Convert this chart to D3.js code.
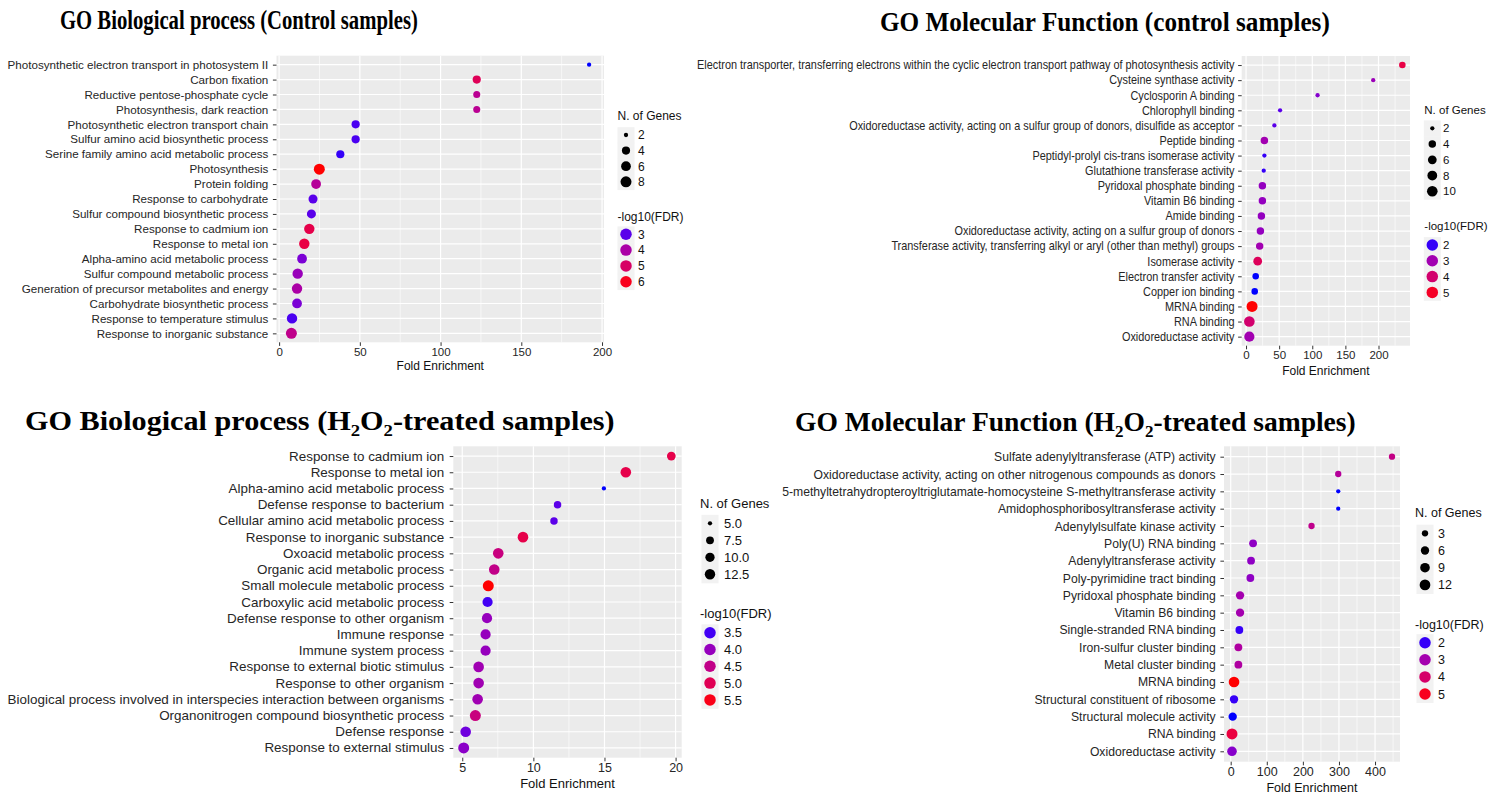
<!DOCTYPE html>
<html><head><meta charset="utf-8">
<script src="https://cdn.jsdelivr.net/npm/d3@7"></script>
<style>
body{margin:0;background:#fff;}
svg{display:block;font-family:"Liberation Sans",Arial,Helvetica,sans-serif;}
</style>
</head><body>
<svg id="chart" width="1502" height="798"></svg>
<script>
// ---------- DATA ----------
// Panel 1: GO Biological process (Control samples)
const bpCtrlTerms = ["Photosynthetic electron transport in photosystem II","Carbon fixation","Reductive pentose-phosphate cycle","Photosynthesis, dark reaction","Photosynthetic electron transport chain","Sulfur amino acid biosynthetic process","Serine family amino acid metabolic process","Photosynthesis","Protein folding","Response to carbohydrate","Sulfur compound biosynthetic process","Response to cadmium ion","Response to metal ion","Alpha-amino acid metabolic process","Sulfur compound metabolic process","Generation of precursor metabolites and energy","Carbohydrate biosynthetic process","Response to temperature stimulus","Response to inorganic substance"];
const bpCtrlFold = [192,122.4,122.4,122.4,47.4,47.4,37.9,24.9,22.9,21.0,20.0,18.7,15.6,14.2,11.5,11.1,11.1,8.0,7.6];
const bpCtrlGenes = [2,4,3,3,4,4,4,8,6,5,5,7,7,6,7,7,6,7,8];
const bpCtrlLogFDR = [2.7,5.2,4.3,4.3,2.9,2.9,2.8,6.2,4.2,3.0,3.0,5.4,5.5,3.3,3.7,4.0,3.3,2.9,4.4];
const bpCtrlXTicks = [0,50,100,150,200];
const bpCtrlSizeBreaks = [2,4,6,8];
const bpCtrlColorBreaks = [3,4,5,6];

// Panel 2: GO Molecular Function (control samples)
const mfCtrlTerms = ["Electron transporter, transferring electrons within the cyclic electron transport pathway of photosynthesis activity","Cysteine synthase activity","Cyclosporin A binding","Chlorophyll binding","Oxidoreductase activity, acting on a sulfur group of donors, disulfide as acceptor","Peptide binding","Peptidyl-prolyl cis-trans isomerase activity","Glutathione transferase activity","Pyridoxal phosphate binding","Vitamin B6 binding","Amide binding","Oxidoreductase activity, acting on a sulfur group of donors","Transferase activity, transferring alkyl or aryl (other than methyl) groups","Isomerase activity","Electron transfer activity","Copper ion binding","MRNA binding","RNA binding","Oxidoreductase activity"];
const mfCtrlFold = [236,192,108,51.4,42.8,27.7,27.7,26.7,24.7,24.7,23.2,21.7,20.6,17.6,14.6,13.1,9.1,5.0,5.0];
const mfCtrlGenes = [3,2,2,2,2,4,2,2,4,4,4,4,4,6,3,3,11,10,9];
const mfCtrlLogFDR = [4.6,2.9,2.6,2.2,2.2,3.0,2.0,2.0,2.8,2.8,2.8,2.8,3.0,4.3,1.9,1.9,5.3,4.0,3.0];
const mfCtrlXTicks = [0,50,100,150,200];
const mfCtrlSizeBreaks = [2,4,6,8,10];
const mfCtrlColorBreaks = [2,3,4,5];

// Panel 3: GO Biological process (H2O2-treated samples)
const bpH2o2Terms = ["Response to cadmium ion","Response to metal ion","Alpha-amino acid metabolic process","Defense response to bacterium","Cellular amino acid metabolic process","Response to inorganic substance","Oxoacid metabolic process","Organic acid metabolic process","Small molecule metabolic process","Carboxylic acid metabolic process","Defense response to other organism","Immune response","Immune system process","Response to external biotic stimulus","Response to other organism","Biological process involved in interspecies interaction between organisms","Organonitrogen compound biosynthetic process","Defense response","Response to external stimulus"];
const bpH2o2Fold = [19.7,16.5,14.96,11.7,11.45,9.27,7.53,7.25,6.83,6.78,6.74,6.64,6.64,6.15,6.15,6.08,5.92,5.24,5.1];
const bpH2o2Genes = [9,13,5,7,7,13,13,13,14,12,12,12,12,13,13,13,14,13,14];
const bpH2o2LogFDR = [5.1,5.1,3.4,3.6,3.6,5.1,4.6,4.5,5.6,3.5,4.0,4.0,4.0,4.1,4.1,4.1,4.6,3.7,3.9];
const bpH2o2XTicks = [5,10,15,20];
const bpH2o2SizeBreaks = [5,7.5,10,12.5];
const bpH2o2ColorBreaks = [3.5,4.0,4.5,5.0,5.5];

// Panel 4: GO Molecular Function (H2O2-treated samples)
const mfH2o2Terms = ["Sulfate adenylyltransferase (ATP) activity","Oxidoreductase activity, acting on other nitrogenous compounds as donors","5-methyltetrahydropteroyltriglutamate-homocysteine S-methyltransferase activity","Amidophosphoribosyltransferase activity","Adenylylsulfate kinase activity","Poly(U) RNA binding","Adenylyltransferase activity","Poly-pyrimidine tract binding","Pyridoxal phosphate binding","Vitamin B6 binding","Single-stranded RNA binding","Iron-sulfur cluster binding","Metal cluster binding","MRNA binding","Structural constituent of ribosome","Structural molecule activity","RNA binding","Oxidoreductase activity"];
const mfH2o2Fold = [447,298,298,298,224,62,56.4,54.5,25.9,25.9,24,21.3,21.3,9.2,9.2,5.5,3.6,3.6];
const mfH2o2Genes = [3,3,2,2,3,5,5,5,6,6,5,5,5,12,6,6,13,9];
const mfH2o2LogFDR = [3.6,3.3,1.9,1.9,3.5,2.7,2.7,2.7,3.0,3.0,2.0,3.2,3.2,5.2,2.0,1.9,4.6,2.6];
const mfH2o2XTicks = [0,100,200,300,400];
const mfH2o2SizeBreaks = [3,6,9,12];
const mfH2o2ColorBreaks = [2,3,4,5];

// ---------- DRAWING ----------
const svg = d3.select("#chart");
const D_MIN = 4.3, D_MAX = 11, LEG_COLOR_D = 11.5;

function expand([a,b]){ const r=b-a; return [a-0.05*r, b+0.05*r]; }

function drawPanel(d, L){
  const g = svg.append("g");
  const x = d3.scaleLinear().domain(expand(d3.extent(d.fold))).range([L.left, L.right]);
  const y = d3.scalePoint().domain(d.terms).range([L.top, L.bottom]).padding(0.6);
  const norm = d3.scaleLinear().domain(d3.extent(d.genes)).range([0,1]);
  const diam = d3.scaleSqrt().domain([0,1]).range([D_MIN, D_MAX]);
  const size = v => diam(Math.max(0, norm(v)));
  const color = d3.scaleLinear().domain(d3.extent(d.fdr)).range(["#0000FF","#FF0000"]).interpolate(d3.interpolateLab);

  g.append("rect").attr("x",L.left).attr("y",L.top).attr("width",L.right-L.left).attr("height",L.bottom-L.top).attr("fill","#EBEBEB");
  const [dx0,dx1] = x.domain();
  const step = d.xTicks[1]-d.xTicks[0];
  const minor = [];
  for(let t=d.xTicks[0]-step/2; t<=dx1; t+=step){ if(t>=dx0) minor.push(t); }
  g.selectAll(".minor").data(minor).join("line")
    .attr("x1",v=>x(v)).attr("x2",v=>x(v)).attr("y1",L.top).attr("y2",L.bottom)
    .attr("stroke","#fff").attr("stroke-width",0.6);
  g.selectAll(".majx").data(d.xTicks.filter(v=>v>=dx0&&v<=dx1)).join("line")
    .attr("x1",v=>x(v)).attr("x2",v=>x(v)).attr("y1",L.top).attr("y2",L.bottom)
    .attr("stroke","#fff").attr("stroke-width",1.2);
  g.selectAll(".majy").data(d.terms).join("line")
    .attr("x1",L.left).attr("x2",L.right).attr("y1",v=>y(v)).attr("y2",v=>y(v))
    .attr("stroke","#fff").attr("stroke-width",1.2);

  const pts = d.terms.map((t,i)=>({t, f:d.fold[i], n:d.genes[i], c:d.fdr[i]}));
  g.selectAll(".pt").data(pts).join("circle")
    .attr("cx",p=>x(p.f)).attr("cy",p=>y(p.t)).attr("r",p=>size(p.n)/2)
    .attr("fill",p=>color(p.c));

  // y axis
  const ya = g.append("g").attr("transform",`translate(${L.left},0)`)
    .call(d3.axisLeft(y).tickSize(3.6).tickPadding(3));
  ya.select(".domain").remove();
  ya.selectAll(".tick line").attr("stroke","#333");
  const yt = ya.selectAll(".tick text").attr("fill","#262626").attr("font-size",L.labelFont)
    .attr("font-family",'"Liberation Sans",Arial,sans-serif');
  let maxW = 0; yt.each(function(){ maxW = Math.max(maxW, this.getComputedTextLength()); });
  const f = L.labelWidth / maxW;
  yt.attr("x",0).attr("transform",`translate(${-(L.left-L.labelRight)},0) scale(${f},1)`);

  // x axis
  const xa = g.append("g").attr("transform",`translate(0,${L.bottom})`)
    .call(d3.axisBottom(x).tickValues(d.xTicks).tickSize(3.6).tickPadding(2).tickFormat(d3.format("d")));
  xa.select(".domain").remove();
  xa.selectAll(".tick line").attr("stroke","#333");
  xa.selectAll(".tick text").attr("fill","#262626").attr("font-size",L.tickFont)
    .attr("y",null).attr("dy",null).attr("transform",null)
    .attr("y", L.xTickBase - L.bottom);
  g.append("text").attr("x",(L.left+L.right)/2).attr("y",L.xTitleBase)
    .attr("text-anchor","middle").attr("font-size",L.titleFont).attr("fill","#111").text("Fold Enrichment");

  // legends
  const kw = 17;
  g.append("text").attr("x",L.legX).attr("y",L.sizeTitleBase).attr("font-size",L.legFont).attr("fill","#111").text("N. of Genes");
  d.sizeBreaks.forEach((b,i)=>{
    const cy = L.sizeY0 + i*L.sizeStep;
    g.append("rect").attr("x",L.legDotX-kw/2).attr("y",cy-L.sizeStep/2).attr("width",kw).attr("height",L.sizeStep+0.5).attr("fill","#F2F2F2");
    g.append("circle").attr("cx",L.legDotX).attr("cy",cy).attr("r",size(b)/2).attr("fill","#000");
    g.append("text").attr("x",L.legLabX).attr("y",cy).attr("dy","0.36em").attr("font-size",L.legFont).attr("fill","#111").text(d.sizeFmt(b));
  });
  g.append("text").attr("x",L.legX).attr("y",L.colorTitleBase).attr("font-size",L.legFont).attr("fill","#111").text("-log10(FDR)");
  d.colorBreaks.forEach((b,i)=>{
    const cy = L.colorY0 + i*L.colorStep;
    g.append("rect").attr("x",L.legDotX-kw/2).attr("y",cy-L.colorStep/2).attr("width",kw).attr("height",L.colorStep+0.5).attr("fill","#F2F2F2");
    g.append("circle").attr("cx",L.legDotX).attr("cy",cy).attr("r",LEG_COLOR_D/2).attr("fill",color(b));
    g.append("text").attr("x",L.legLabX).attr("y",cy).attr("dy","0.36em").attr("font-size",L.legFont).attr("fill","#111").text(d.colorFmt(b));
  });
}

const fmtInt = d3.format("d"), fmt1 = d3.format(".1f");

drawPanel({terms:bpCtrlTerms, fold:bpCtrlFold, genes:bpCtrlGenes, fdr:bpCtrlLogFDR, xTicks:bpCtrlXTicks,
  sizeBreaks:bpCtrlSizeBreaks, colorBreaks:bpCtrlColorBreaks, sizeFmt:fmtInt, colorFmt:fmtInt},
  {left:276.5,right:604,top:55.7,bottom:342.3,labelFont:11.5,labelWidth:261,labelRight:268.3,
   tickFont:11.5,xTickBase:355.7,xTitleBase:370,titleFont:12,
   legX:617.5,legDotX:626,legLabX:638,legFont:12,sizeTitleBase:120,sizeY0:135,sizeStep:15.6,
   colorTitleBase:221,colorY0:234.3,colorStep:15.8});

drawPanel({terms:mfCtrlTerms, fold:mfCtrlFold, genes:mfCtrlGenes, fdr:mfCtrlLogFDR, xTicks:mfCtrlXTicks,
  sizeBreaks:mfCtrlSizeBreaks, colorBreaks:mfCtrlColorBreaks, sizeFmt:fmtInt, colorFmt:fmtInt},
  {left:1241.7,right:1410,top:56,bottom:345.7,labelFont:12,labelWidth:537.8,labelRight:1234.5,
   tickFont:11.5,xTickBase:359,xTitleBase:375,titleFont:12,
   legX:1424.3,legDotX:1432.3,legLabX:1443,legFont:11.5,sizeTitleBase:113.5,sizeY0:128.3,sizeStep:15.75,
   colorTitleBase:230,colorY0:245,colorStep:15.8});

drawPanel({terms:bpH2o2Terms, fold:bpH2o2Fold, genes:bpH2o2Genes, fdr:bpH2o2LogFDR, xTicks:bpH2o2XTicks,
  sizeBreaks:bpH2o2SizeBreaks, colorBreaks:bpH2o2ColorBreaks, sizeFmt:fmt1, colorFmt:fmt1},
  {left:453.3,right:681.7,top:446.3,bottom:757.7,labelFont:12.5,labelWidth:437,labelRight:444.3,
   tickFont:12.5,xTickBase:772.5,xTitleBase:787.5,titleFont:13,
   legX:700,legDotX:710,legLabX:724,legFont:13,sizeTitleBase:507.5,sizeY0:523.3,sizeStep:17,
   colorTitleBase:617.5,colorY0:632.7,colorStep:16.8});

drawPanel({terms:mfH2o2Terms, fold:mfH2o2Fold, genes:mfH2o2Genes, fdr:mfH2o2LogFDR, xTicks:mfH2o2XTicks,
  sizeBreaks:mfH2o2SizeBreaks, colorBreaks:mfH2o2ColorBreaks, sizeFmt:fmtInt, colorFmt:fmtInt},
  {left:1224,right:1400,top:446.3,bottom:761.7,labelFont:12.5,labelWidth:434,labelRight:1215.7,
   tickFont:12.5,xTickBase:776,xTitleBase:792,titleFont:12.5,
   legX:1415,legDotX:1425,legLabX:1438,legFont:12.5,sizeTitleBase:517,sizeY0:533.3,sizeStep:17.2,
   colorTitleBase:628.5,colorY0:642.7,colorStep:17.1});

// ---------- TITLES ----------
function title(parts, left, right, base, fs){
  const t = svg.append("text").attr("x",0).attr("y",0)
    .attr("font-family",'"Liberation Serif","Times New Roman",serif').attr("font-weight","bold")
    .attr("font-size",fs).attr("fill","#000");
  parts.forEach(p=>{
    const s = t.append("tspan").text(p.t);
    if(p.sub){ s.attr("font-size",fs*0.62).attr("dy",fs*0.22); }
    else if(p.after){ s.attr("dy",-fs*0.22); }
  });
  const w = t.node().getComputedTextLength();
  t.attr("transform",`translate(${left},${base}) scale(${(right-left)/w},1)`);
}
title([{t:"GO Biological process (Control samples)"}], 60, 418, 29, 28);
title([{t:"GO Molecular Function (control samples)"}], 880, 1330, 31, 27);
title([{t:"GO Biological process (H"},{t:"2",sub:true},{t:"O",after:true},{t:"2",sub:true},{t:"-treated samples)",after:true}], 25, 615, 430, 28);
title([{t:"GO Molecular Function (H"},{t:"2",sub:true},{t:"O",after:true},{t:"2",sub:true},{t:"-treated samples)",after:true}], 795, 1356, 431, 27);
</script>
</body></html>
